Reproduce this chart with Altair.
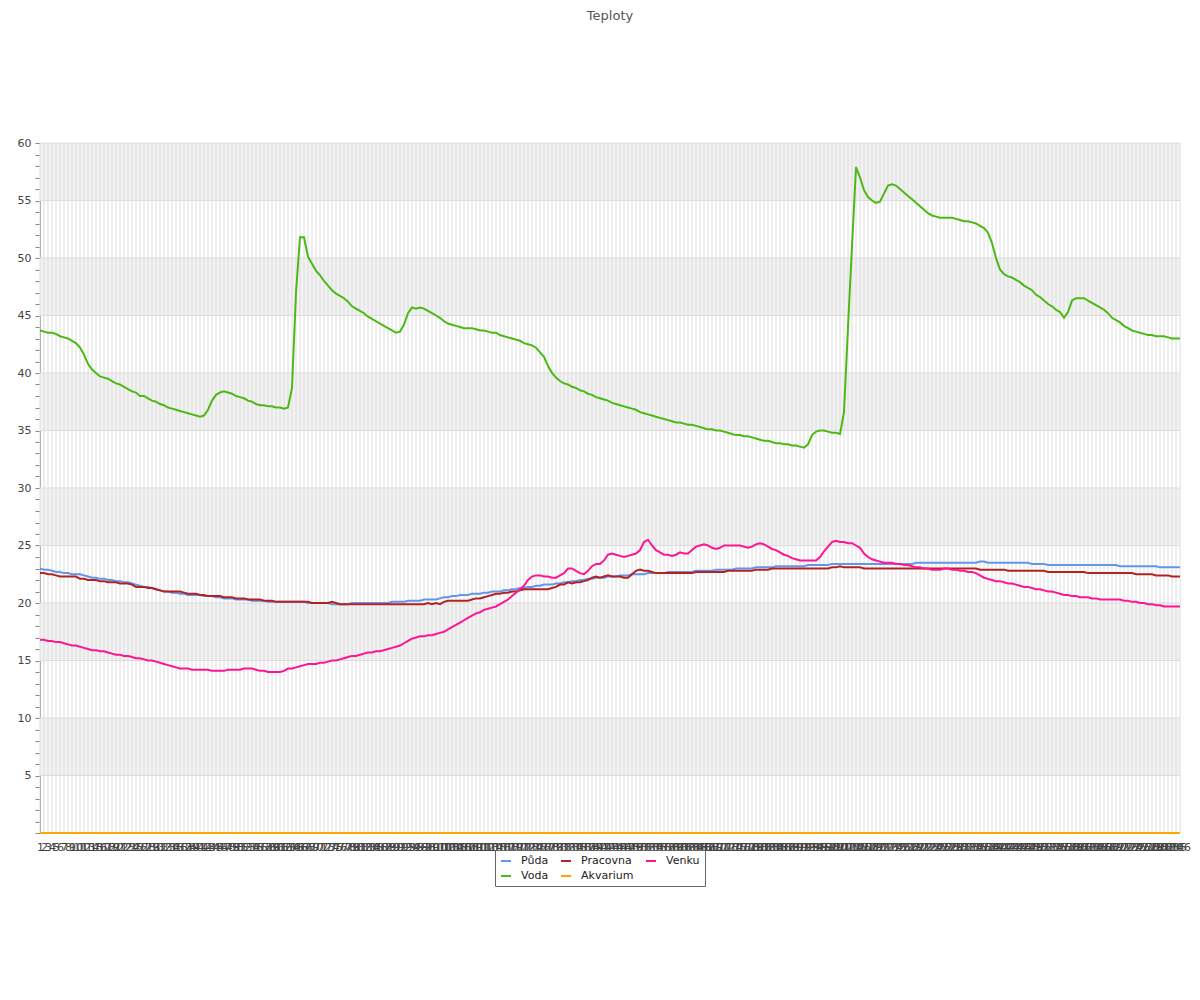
import altair as alt
import pandas as pd

days = list(range(1, 287))

puda = [
    23.0, 22.9, 22.9, 22.8, 22.7, 22.7, 22.6, 22.6, 22.5, 22.5,
    22.5, 22.4, 22.3, 22.2, 22.2, 22.1, 22.1, 22.0, 22.0, 21.9,
    21.9, 21.8, 21.8, 21.7, 21.6, 21.5, 21.4, 21.4, 21.3, 21.2,
    21.1, 21.0, 21.0, 20.9, 20.9, 20.8, 20.8, 20.7, 20.7, 20.7,
    20.7, 20.6, 20.6, 20.6, 20.5, 20.5, 20.4, 20.4, 20.4, 20.3,
    20.3, 20.3, 20.3, 20.2, 20.2, 20.2, 20.2, 20.1, 20.1, 20.1,
    20.1, 20.1, 20.1, 20.1, 20.1, 20.1, 20.1, 20.0, 20.0, 20.0,
    20.0, 20.0, 20.0, 19.9, 19.9, 19.9, 19.9, 19.9, 20.0, 20.0,
    20.0, 20.0, 20.0, 20.0, 20.0, 20.0, 20.0, 20.0, 20.1, 20.1,
    20.1, 20.1, 20.2, 20.2, 20.2, 20.2, 20.3, 20.3, 20.3, 20.3,
    20.4, 20.5, 20.5, 20.6, 20.6, 20.7, 20.7, 20.7, 20.8, 20.8,
    20.8, 20.9, 20.9, 21.0, 21.0, 21.0, 21.1, 21.1, 21.2, 21.2,
    21.3, 21.3, 21.4, 21.4, 21.5, 21.5, 21.6, 21.6, 21.6, 21.7,
    21.7, 21.8, 21.8, 21.9, 21.9, 22.0, 22.0, 22.1, 22.1, 22.2,
    22.2, 22.2, 22.3, 22.3, 22.3, 22.4, 22.4, 22.4, 22.5, 22.5,
    22.5, 22.5, 22.6, 22.6, 22.6, 22.6, 22.6, 22.7, 22.7, 22.7,
    22.7, 22.7, 22.7, 22.7, 22.8, 22.8, 22.8, 22.8, 22.8, 22.9,
    22.9, 22.9, 22.9, 22.9, 23.0, 23.0, 23.0, 23.0, 23.0, 23.1,
    23.1, 23.1, 23.1, 23.1, 23.2, 23.2, 23.2, 23.2, 23.2, 23.2,
    23.2, 23.2, 23.3, 23.3, 23.3, 23.3, 23.3, 23.3, 23.4, 23.4,
    23.4, 23.4, 23.4, 23.4, 23.4, 23.4, 23.4, 23.4, 23.4, 23.4,
    23.4, 23.4, 23.4, 23.4, 23.4, 23.4, 23.4, 23.4, 23.4, 23.5,
    23.5, 23.5, 23.5, 23.5, 23.5, 23.5, 23.5, 23.5, 23.5, 23.5,
    23.5, 23.5, 23.5, 23.5, 23.5, 23.6, 23.6, 23.5, 23.5, 23.5,
    23.5, 23.5, 23.5, 23.5, 23.5, 23.5, 23.5, 23.5, 23.4, 23.4,
    23.4, 23.4, 23.3, 23.3, 23.3, 23.3, 23.3, 23.3, 23.3, 23.3,
    23.3, 23.3, 23.3, 23.3, 23.3, 23.3, 23.3, 23.3, 23.3, 23.3,
    23.2, 23.2, 23.2, 23.2, 23.2, 23.2, 23.2, 23.2, 23.2, 23.2,
    23.1, 23.1, 23.1, 23.1, 23.1, 23.1,
]

voda = [
    43.7, 43.6, 43.5, 43.5, 43.4, 43.2, 43.1, 43.0, 42.8, 42.6,
    42.2, 41.6, 40.8, 40.3, 40.0, 39.7, 39.6, 39.5, 39.3, 39.1,
    39.0, 38.8, 38.6, 38.4, 38.3, 38.0, 38.0, 37.8, 37.6, 37.5,
    37.3, 37.2, 37.0, 36.9, 36.8, 36.7, 36.6, 36.5, 36.4, 36.3,
    36.2, 36.3, 36.8, 37.6, 38.1, 38.3, 38.4, 38.3, 38.2, 38.0,
    37.9, 37.8, 37.6, 37.5, 37.3, 37.2, 37.2, 37.1, 37.1, 37.0,
    37.0, 36.9, 37.0, 38.7, 47.0, 51.8, 51.8, 50.1, 49.5, 48.9,
    48.5, 48.0, 47.6, 47.2, 46.9, 46.7, 46.5, 46.2, 45.8, 45.6,
    45.4, 45.2, 44.9, 44.7, 44.5, 44.3, 44.1, 43.9, 43.7, 43.5,
    43.6, 44.2, 45.2, 45.7, 45.6, 45.7, 45.6, 45.4, 45.2, 45.0,
    44.8, 44.5, 44.3, 44.2, 44.1, 44.0, 43.9, 43.9, 43.9, 43.8,
    43.7, 43.7, 43.6, 43.5, 43.5, 43.3, 43.2, 43.1, 43.0, 42.9,
    42.8, 42.6, 42.5, 42.4, 42.2, 41.8, 41.4, 40.6, 40.0, 39.6,
    39.3, 39.1, 39.0, 38.8, 38.7, 38.5, 38.4, 38.2, 38.1, 37.9,
    37.8, 37.7, 37.6, 37.4, 37.3, 37.2, 37.1, 37.0, 36.9, 36.8,
    36.6, 36.5, 36.4, 36.3, 36.2, 36.1, 36.0, 35.9, 35.8, 35.7,
    35.7, 35.6, 35.5, 35.5, 35.4, 35.3, 35.2, 35.1, 35.1, 35.0,
    35.0, 34.9, 34.8, 34.7, 34.6, 34.6, 34.5, 34.5, 34.4, 34.3,
    34.2, 34.1, 34.1, 34.0, 33.9, 33.9, 33.8, 33.8, 33.7, 33.7,
    33.6, 33.5, 33.8, 34.6, 34.9, 35.0, 35.0, 34.9, 34.8, 34.8,
    34.7, 36.6, 44.0, 51.0, 57.9, 57.0, 55.9, 55.3, 55.0, 54.8,
    54.9, 55.6, 56.3, 56.4, 56.3, 56.0, 55.7, 55.4, 55.1, 54.8,
    54.5, 54.2, 53.9, 53.7, 53.6, 53.5, 53.5, 53.5, 53.5, 53.4,
    53.3, 53.2, 53.2, 53.1, 53.0, 52.8, 52.6, 52.2, 51.3, 50.0,
    49.0, 48.6, 48.4, 48.3, 48.1, 47.9, 47.6, 47.4, 47.2, 46.8,
    46.6, 46.3, 46.0, 45.8, 45.5, 45.3, 44.8, 45.3, 46.3, 46.5,
    46.5, 46.5, 46.3, 46.1, 45.9, 45.7, 45.5, 45.2, 44.8, 44.6,
    44.4, 44.1, 43.9, 43.7, 43.6, 43.5, 43.4, 43.3, 43.3, 43.2,
    43.2, 43.2, 43.1, 43.0, 43.0, 43.0,
]

pracovna = [
    22.6, 22.6, 22.5, 22.5, 22.4, 22.3, 22.3, 22.3, 22.3, 22.3,
    22.1, 22.1, 22.0, 22.0, 22.0, 21.9, 21.9, 21.8, 21.8, 21.8,
    21.7, 21.7, 21.7, 21.6, 21.4, 21.4, 21.4, 21.3, 21.3, 21.2,
    21.1, 21.0, 21.0, 21.0, 21.0, 21.0, 20.9, 20.8, 20.8, 20.8,
    20.7, 20.7, 20.6, 20.6, 20.6, 20.6, 20.5, 20.5, 20.5, 20.4,
    20.4, 20.4, 20.3, 20.3, 20.3, 20.3, 20.2, 20.2, 20.2, 20.1,
    20.1, 20.1, 20.1, 20.1, 20.1, 20.1, 20.1, 20.1, 20.0, 20.0,
    20.0, 20.0, 20.0, 20.1, 20.0, 19.9, 19.9, 19.9, 19.9, 19.9,
    19.9, 19.9, 19.9, 19.9, 19.9, 19.9, 19.9, 19.9, 19.9, 19.9,
    19.9, 19.9, 19.9, 19.9, 19.9, 19.9, 19.9, 20.0, 19.9, 20.0,
    19.9, 20.1, 20.2, 20.2, 20.2, 20.2, 20.2, 20.2, 20.3, 20.4,
    20.4, 20.5, 20.6, 20.7, 20.8, 20.8, 20.9, 20.9, 21.0, 21.0,
    21.1, 21.2, 21.2, 21.2, 21.2, 21.2, 21.2, 21.2, 21.3, 21.4,
    21.6, 21.6, 21.8, 21.7, 21.8, 21.8, 21.9, 22.0, 22.2, 22.3,
    22.2, 22.3, 22.4, 22.3, 22.3, 22.3, 22.2, 22.2, 22.5, 22.8,
    22.9, 22.8, 22.8, 22.7, 22.6, 22.6, 22.6, 22.6, 22.6, 22.6,
    22.6, 22.6, 22.6, 22.6, 22.7, 22.7, 22.7, 22.7, 22.7, 22.7,
    22.7, 22.7, 22.8, 22.8, 22.8, 22.8, 22.8, 22.8, 22.8, 22.9,
    22.9, 22.9, 22.9, 23.0, 23.0, 23.0, 23.0, 23.0, 23.0, 23.0,
    23.0, 23.0, 23.0, 23.0, 23.0, 23.0, 23.0, 23.0, 23.1, 23.1,
    23.2, 23.1, 23.1, 23.1, 23.1, 23.1, 23.0, 23.0, 23.0, 23.0,
    23.0, 23.0, 23.0, 23.0, 23.0, 23.0, 23.0, 23.0, 23.0, 23.0,
    23.0, 23.0, 23.0, 23.0, 23.0, 23.0, 23.0, 23.0, 23.0, 23.0,
    23.0, 23.0, 23.0, 23.0, 23.0, 22.9, 22.9, 22.9, 22.9, 22.9,
    22.9, 22.9, 22.8, 22.8, 22.8, 22.8, 22.8, 22.8, 22.8, 22.8,
    22.8, 22.8, 22.7, 22.7, 22.7, 22.7, 22.7, 22.7, 22.7, 22.7,
    22.7, 22.7, 22.6, 22.6, 22.6, 22.6, 22.6, 22.6, 22.6, 22.6,
    22.6, 22.6, 22.6, 22.6, 22.5, 22.5, 22.5, 22.5, 22.5, 22.4,
    22.4, 22.4, 22.4, 22.3, 22.3, 22.3,
]

akvarium = [
    0, 0, 0, 0, 0, 0, 0, 0, 0, 0, 0, 0, 0, 0, 0, 0, 0, 0, 0, 0,
    0, 0, 0, 0, 0, 0, 0, 0, 0, 0, 0, 0, 0, 0, 0, 0, 0, 0, 0, 0,
    0, 0, 0, 0, 0, 0, 0, 0, 0, 0, 0, 0, 0, 0, 0, 0, 0, 0, 0, 0,
    0, 0, 0, 0, 0, 0, 0, 0, 0, 0, 0, 0, 0, 0, 0, 0, 0, 0, 0, 0,
    0, 0, 0, 0, 0, 0, 0, 0, 0, 0, 0, 0, 0, 0, 0, 0, 0, 0, 0, 0,
    0, 0, 0, 0, 0, 0, 0, 0, 0, 0, 0, 0, 0, 0, 0, 0, 0, 0, 0, 0,
    0, 0, 0, 0, 0, 0, 0, 0, 0, 0, 0, 0, 0, 0, 0, 0, 0, 0, 0, 0,
    0, 0, 0, 0, 0, 0, 0, 0, 0, 0, 0, 0, 0, 0, 0, 0, 0, 0, 0, 0,
    0, 0, 0, 0, 0, 0, 0, 0, 0, 0, 0, 0, 0, 0, 0, 0, 0, 0, 0, 0,
    0, 0, 0, 0, 0, 0, 0, 0, 0, 0, 0, 0, 0, 0, 0, 0, 0, 0, 0, 0,
    0, 0, 0, 0, 0, 0, 0, 0, 0, 0, 0, 0, 0, 0, 0, 0, 0, 0, 0, 0,
    0, 0, 0, 0, 0, 0, 0, 0, 0, 0, 0, 0, 0, 0, 0, 0, 0, 0, 0, 0,
    0, 0, 0, 0, 0, 0, 0, 0, 0, 0, 0, 0, 0, 0, 0, 0, 0, 0, 0, 0,
    0, 0, 0, 0, 0, 0, 0, 0, 0, 0, 0, 0, 0, 0, 0, 0, 0, 0, 0, 0,
    0, 0, 0, 0, 0, 0,
]

venku = [
    16.8, 16.8, 16.7, 16.7, 16.6, 16.6, 16.5, 16.4, 16.3, 16.3,
    16.2, 16.1, 16.0, 15.9, 15.9, 15.8, 15.8, 15.7, 15.6, 15.5,
    15.5, 15.4, 15.4, 15.3, 15.2, 15.2, 15.1, 15.0, 15.0, 14.9,
    14.8, 14.7, 14.6, 14.5, 14.4, 14.3, 14.3, 14.3, 14.2, 14.2,
    14.2, 14.2, 14.2, 14.1, 14.1, 14.1, 14.1, 14.2, 14.2, 14.2,
    14.2, 14.3, 14.3, 14.3, 14.2, 14.1, 14.1, 14.0, 14.0, 14.0,
    14.0, 14.1, 14.3, 14.3, 14.4, 14.5, 14.6, 14.7, 14.7, 14.7,
    14.8, 14.8, 14.9, 15.0, 15.0, 15.1, 15.2, 15.3, 15.4, 15.4,
    15.5, 15.6, 15.7, 15.7, 15.8, 15.8, 15.9, 16.0, 16.1, 16.2,
    16.3, 16.5, 16.7, 16.9, 17.0, 17.1, 17.1, 17.2, 17.2, 17.3,
    17.4, 17.5, 17.7, 17.9, 18.1, 18.3, 18.5, 18.7, 18.9, 19.1,
    19.2, 19.4, 19.5, 19.6, 19.7, 19.9, 20.1, 20.3, 20.6, 20.9,
    21.2, 21.5, 22.0, 22.3, 22.4, 22.4, 22.3, 22.3, 22.2, 22.2,
    22.4, 22.6, 23.0, 23.0, 22.8, 22.6, 22.5, 22.8, 23.2, 23.4,
    23.4, 23.7, 24.2, 24.3, 24.2, 24.1, 24.0, 24.1, 24.2, 24.3,
    24.6, 25.3, 25.5, 25.0, 24.6, 24.4, 24.2, 24.2, 24.1, 24.2,
    24.4, 24.3, 24.3, 24.6, 24.9, 25.0, 25.1, 25.0, 24.8, 24.7,
    24.8, 25.0, 25.0, 25.0, 25.0, 25.0, 24.9, 24.8, 24.9, 25.1,
    25.2, 25.1, 24.9, 24.7, 24.6, 24.4, 24.2, 24.1, 23.9, 23.8,
    23.7, 23.7, 23.7, 23.7, 23.7, 24.0, 24.5, 24.9, 25.3, 25.4,
    25.3, 25.3, 25.2, 25.2, 25.0, 24.8, 24.3, 24.0, 23.8, 23.7,
    23.6, 23.5, 23.5, 23.5, 23.4, 23.4, 23.3, 23.3, 23.2, 23.1,
    23.1, 23.0, 23.0, 22.9, 22.9, 22.9, 23.0, 23.0, 22.9, 22.9,
    22.8, 22.8, 22.7, 22.7, 22.6, 22.4, 22.2, 22.1, 22.0, 21.9,
    21.9, 21.8, 21.7, 21.7, 21.6, 21.5, 21.4, 21.4, 21.3, 21.2,
    21.2, 21.1, 21.0, 21.0, 20.9, 20.8, 20.7, 20.7, 20.6, 20.6,
    20.5, 20.5, 20.5, 20.4, 20.4, 20.3, 20.3, 20.3, 20.3, 20.3,
    20.3, 20.2, 20.2, 20.1, 20.1, 20.0, 20.0, 19.9, 19.9, 19.8,
    19.8, 19.7, 19.7, 19.7, 19.7, 19.7,
]

series_names = ["Půda", "Voda", "Pracovna", "Akvarium", "Venku"]
series_values = [puda, voda, pracovna, akvarium, venku]
series_colors = ["#6495ED", "#4CB814", "#B22222", "#FFA500", "#FF1493"]

band_lo = [5, 15, 25, 35, 45, 55]
band_hi = [10, 20, 30, 40, 50, 60]
grid_y = [5, 10, 15, 20, 25, 30, 35, 40, 45, 50, 55, 60]
y_ticks = list(range(0, 61))

for name, vals in zip(series_names, series_values):
    if len(vals) != len(days):
        raise ValueError(f"{name}: {len(vals)} values")

rows = []
for name, vals in zip(series_names, series_values):
    for d, v in zip(days, vals):
        rows.append({"den": d, "serie": name, "teplota": v})
df = pd.DataFrame(rows)

bands_df = pd.DataFrame({"teplota": band_lo, "teplota2": band_hi})
vgrid_df = pd.DataFrame({"den": days})
hgrid_df = pd.DataFrame({"teplota": grid_y})

W, H = 1140, 690
FONT = "DejaVu Sans"

xscale = alt.Scale(domain=[1, 286], nice=False, zero=False)
yscale = alt.Scale(domain=[0, 60], nice=False, zero=True)

x_axis = alt.Axis(
    values=days, labelOverlap=False, labelFlush=False, labelAngle=0,
    ticks=False, domain=False, grid=False, title=None,
    labelFontSize=11, labelColor="#444", labelPadding=8, labelFont=FONT,
)
y_axis = alt.Axis(
    values=y_ticks,
    labelExpr="(datum.value % 5 == 0 && datum.value > 0) ? datum.label : ''",
    labelOverlap=False,
    tickSize=5, tickColor="#888", domainColor="#888", grid=False, title=None,
    labelFontSize=11, labelColor="#444", labelPadding=4, labelFont=FONT,
)

bands = alt.Chart(bands_df).mark_rect(color="#f2f2f2").encode(
    x=alt.value(0), x2=alt.value(W),
    y=alt.Y("teplota:Q", scale=yscale, axis=y_axis),
    y2="teplota2:Q",
)

vgrid = alt.Chart(vgrid_df).mark_rule(color="#dcdcdc", strokeWidth=1).encode(
    x=alt.X("den:Q", scale=xscale, axis=x_axis)
)

hgrid = alt.Chart(hgrid_df).mark_rule(color="#dcdcdc", strokeWidth=1).encode(
    y=alt.Y("teplota:Q", scale=yscale, axis=y_axis)
)

lines = alt.Chart(df).mark_line(strokeWidth=2).encode(
    x=alt.X("den:Q", scale=xscale, axis=x_axis),
    y=alt.Y("teplota:Q", scale=yscale, axis=y_axis),
    color=alt.Color(
        "serie:N",
        scale=alt.Scale(domain=series_names, range=series_colors),
        legend=alt.Legend(
            orient="none", legendX=455, legendY=707, columns=3, title=None,
            symbolType="stroke", symbolStrokeWidth=2, symbolSize=100,
            labelFontSize=11, labelFont=FONT, labelColor="#222",
            strokeColor="#666", fillColor="white", padding=5,
            columnPadding=8, rowPadding=4, labelOffset=9,
        ),
    ),
    detail="serie:N",
)

chart = alt.layer(bands, vgrid, hgrid, lines).properties(
    width=W, height=H,
    title=alt.TitleParams(
        "Teploty", fontSize=13, fontWeight="normal", color="#555", font=FONT,
        anchor="middle", offset=114,
    ),
    autosize=alt.AutoSizeParams(type="none"),
    padding={"left": 32, "top": 135, "right": 12, "bottom": 140},
).configure_view(stroke=None)

chart.save("out.html", embed_options={"renderer": "svg", "actions": False})
